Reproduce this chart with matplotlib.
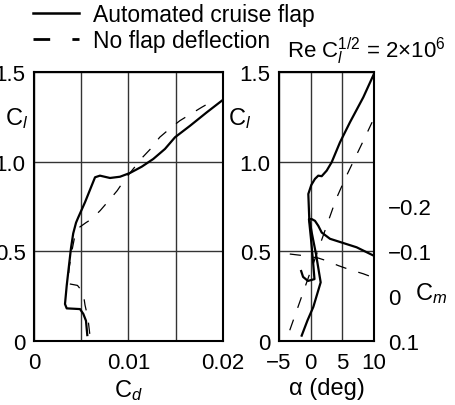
import matplotlib
matplotlib.use("Agg")
import matplotlib.pyplot as plt
from matplotlib.lines import Line2D

plt.rcParams.update({'font.family': 'Liberation Sans',
                     'font.size': 16,
                     'mathtext.fontset': 'custom',
                     'mathtext.rm': 'Liberation Sans',
                     'mathtext.it': 'Liberation Sans:italic',
                     'axes.unicode_minus': True,
                     })

# Cl vs Cd, automated cruise flap (solid)
cd_flap = [0.00564, 0.00558, 0.0055, 0.00522, 0.00487, 0.00346, 0.00328, 0.00346,
           0.0037, 0.00392, 0.00415, 0.00445, 0.00469, 0.0054, 0.0061, 0.00646,
           0.00698, 0.00804, 0.0091, 0.01016, 0.0114, 0.01262, 0.01386, 0.01492,
           0.01651, 0.01828, 0.02]
cl_flap = [0.033, 0.067, 0.113, 0.151, 0.178, 0.182, 0.206, 0.308,
           0.42, 0.52, 0.6, 0.66, 0.69, 0.774, 0.866, 0.913,
           0.922, 0.909, 0.916, 0.937, 0.972, 1.015, 1.071, 1.136,
           1.2, 1.275, 1.345]

# Cl vs Cd, no flap deflection (dashed)
cd_noflap = [0.0059, 0.0057, 0.0054, 0.0052, 0.0046, 0.0036, 0.0037, 0.0040,
             0.0043, 0.0047, 0.0055, 0.0061, 0.007, 0.008, 0.0088, 0.0096,
             0.0102, 0.0115, 0.0124, 0.0133, 0.0145, 0.01545, 0.01774, 0.0188]
cl_noflap = [0.04, 0.13, 0.2, 0.27, 0.31, 0.32, 0.40, 0.50,
             0.58, 0.63, 0.66, 0.68, 0.727, 0.788, 0.838, 0.9,
             0.94, 1.025, 1.075, 1.136, 1.19, 1.229, 1.303, 1.335]

# Cl vs alpha
a_flap = [-1.42, -0.5, 0.42, 1.58, 0.84, 0.21, -0.22, -0.37, 0.1, 0.68, 1.2,
          1.74, 2.53, 3.32, 4.63, 6.21, 8.31, 10.0]
cl_a_flap = [0.03, 0.115, 0.19, 0.327, 0.485, 0.597, 0.68, 0.82, 0.87, 0.904, 0.922,
             0.919, 0.95, 0.997, 1.108, 1.22, 1.359, 1.49]
a_noflap = [-3.3, -2.0, -0.5, 1.0, 2.5, 4.0, 5.5, 7.0, 8.5, 9.7]
cl_a_noflap = [0.06, 0.19, 0.34, 0.49, 0.64, 0.79, 0.91, 1.02, 1.13, 1.22]

# Cm vs alpha
a_cm_flap = [10.0, 7.26, 3.05, 1.74, 1.2, 0.68, 0.16, -0.27, 0.05, 0.37, 0.6,
             -0.43, -1.2, -1.5]
cm_flap = [-0.090, -0.109, -0.128, -0.142, -0.157, -0.168, -0.172, -0.172, -0.128,
           -0.078, -0.038, -0.034, -0.043, -0.056]
a_cm_noflap = [-3.3, -1.5, 0.0, 1.2, 2.3, 4.4, 6.2, 8.3, 10.0]
cm_noflap = [-0.094, -0.091, -0.088, -0.085, -0.080, -0.068, -0.059, -0.050, -0.041]

W, H = 456, 406
fig = plt.figure(figsize=(W / 100, H / 100), dpi=100)
ax1 = fig.add_axes([34 / W, 1 - 342 / H, 189 / W, 269 / H])
ax2 = fig.add_axes([279 / W, 1 - 342 / H, 95 / W, 269 / H])

solid = dict(color='black', lw=1.6, solid_joinstyle='round')
dashed = dict(color='black', lw=0.9, linestyle=(0, (9, 10)))

ax1.plot(cd_flap, cl_flap, **solid)
ax1.plot(cd_noflap, cl_noflap, **dashed)
ax2.plot(a_flap, cl_a_flap, **solid)
ax2.plot(a_noflap, cl_a_noflap, **dashed)

ax1.set_xlim(0, 0.02)
ax1.set_xticks([0, 0.005, 0.01, 0.015, 0.02])
ax1.set_xticklabels(['0', '', '0.01', '', '0.02'])
ax2.set_xlim(-5, 10)
ax2.set_xticks([-5, 0, 5, 10])
ax2.set_xticklabels(['\u22125', '0', '5', '10'])
for ax in (ax1, ax2):
    ax.set_ylim(0, 1.5)
    ax.set_yticks([0, 0.5, 1.0, 1.5])
    ax.set_yticklabels(['0', '0.5', '1.0', '1.5'])
    ax.grid(True, color='0.2', lw=1.0)
    ax.set_axisbelow(True)
    ax.tick_params(length=0, pad=6)
    ax.tick_params(axis='x', pad=8)
    for s in ax.spines.values():
        s.set_linewidth(1.5)

ax1.text(-0.09, 0.83, r'C$_{\mathit{l}}$', transform=ax1.transAxes,
         ha='center', va='center', fontsize=17)
ax2.text(-0.41, 0.83, r'C$_{\mathit{l}}$', transform=ax2.transAxes,
         ha='center', va='center', fontsize=17)
ax1.set_xlabel(r'C$_{\mathit{d}}$', fontsize=17, labelpad=3)
ax2.set_xlabel('\u03b1 (deg)', fontsize=17, labelpad=3)

# moment coefficient on a twin axis
axm = ax2.twinx()
axm.plot(a_cm_flap, cm_flap, **solid)
axm.plot(a_cm_noflap, cm_noflap, **dashed)
axm.set_ylim(0.1, -0.5)
axm.set_yticks([0.1, 0, -0.1, -0.2])
axm.set_yticklabels(['0.1', '0', '\u22120.1', '\u22120.2'])
axm.tick_params(length=0, pad=10)
for s in axm.spines.values():
    s.set_visible(False)
axm.text(1.6, 0.18, r'C$_{\mathit{m}}$', transform=ax2.transAxes,
         ha='center', va='center', fontsize=17)

handles = [Line2D([], [], color='black', lw=1.8),
           Line2D([], [], color='black', lw=2.0, linestyle=(0, (6, 8)))]
fig.legend(handles, ['Automated cruise flap', 'No flap deflection'],
           loc='upper left', bbox_to_anchor=(33 / W, 1 - 4 / H), frameon=False,
           fontsize=16.5, handlelength=2.0, handletextpad=0.6,
           labelspacing=0.15, borderpad=0, borderaxespad=0)
fig.text(287 / W, 1 - 58 / H, r'Re C$_l^{1/2}$ = 2$\times$10$^6$',
         ha='left', va='baseline', fontsize=16)

fig.savefig('out.png', dpi=100)
